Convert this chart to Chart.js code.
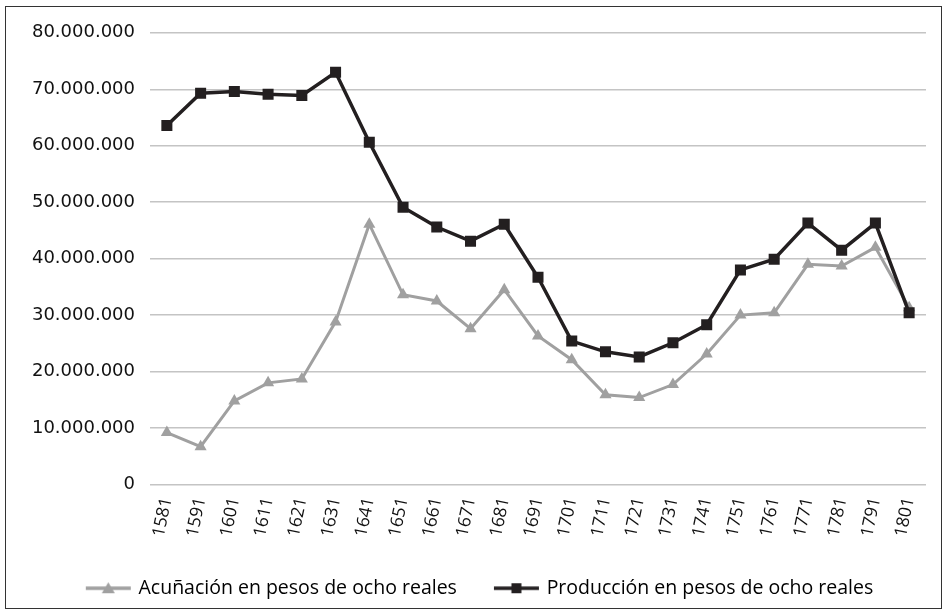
<!DOCTYPE html>
<html>
<head>
<meta charset="utf-8">
<script src="https://cdn.jsdelivr.net/npm/chart.js@4/dist/chart.umd.min.js"></script>
<style>
  html, body { margin: 0; padding: 0; background: #fff; }
  #box { position: absolute; left: 5px; top: 6px; width: 935px; height: 601px; border: 1.5px solid #333; }
  #c { display: block; }
</style>
</head>
<body>
<div id="box"><canvas id="c" width="935" height="601"></canvas></div>
<script>
const years = ['1581','1591','1601','1611','1621','1631','1641','1651','1661','1671','1681','1691','1701','1711','1721','1731','1741','1751','1761','1771','1781','1791','1801'];
const acunacion = [9200000, 6700000, 14800000, 18000000, 18700000, 28800000, 46100000, 33600000, 32500000, 27600000, 34500000, 26300000, 22100000, 15900000, 15400000, 17700000, 23100000, 30000000, 30400000, 39000000, 38700000, 42000000, 31300000];
const produccion = [63600000, 69300000, 69600000, 69100000, 68900000, 73000000, 60600000, 49100000, 45600000, 43100000, 46100000, 36700000, 25400000, 23500000, 22600000, 25100000, 28300000, 38000000, 39900000, 46300000, 41500000, 46300000, 30400000];
const yTicks = [0, 10000000, 20000000, 30000000, 40000000, 50000000, 60000000, 70000000, 80000000];
const seriesNames = ['Acuñación en pesos de ocho reales', 'Producción en pesos de ocho reales'];

const GRAY = '#a0a0a0';
const BLACK = '#231f20';

function legendIcon(color, shape) {
  const cv = document.createElement('canvas');
  cv.width = 80; cv.height = 14;
  const g = cv.getContext('2d');
  g.strokeStyle = color; g.lineWidth = 3.5;
  g.beginPath(); g.moveTo(32, 7); g.lineTo(77, 7); g.stroke();
  g.fillStyle = color;
  if (shape === 'triangle') {
    g.beginPath(); g.moveTo(54.5, 1); g.lineTo(61, 12); g.lineTo(48, 12); g.closePath(); g.fill();
  } else {
    g.fillRect(49.5, 2, 10, 10);
  }
  return cv;
}

function fmt(v) {
  return String(v).replace(/\B(?=(\d{3})+(?!\d))/g, '.');
}

new Chart(document.getElementById('c'), {
  type: 'line',
  data: {
    labels: years,
    datasets: [
      {
        label: seriesNames[0],
        data: acunacion,
        borderColor: GRAY,
        backgroundColor: GRAY,
        borderWidth: 3,
        pointStyle: 'triangle',
        pointRadius: 7,
        pointBorderWidth: 0,
        tension: 0,
        order: 2
      },
      {
        label: seriesNames[1],
        data: produccion,
        borderColor: BLACK,
        backgroundColor: BLACK,
        borderWidth: 3.5,
        pointStyle: 'rect',
        pointRadius: 7.8,
        pointBorderWidth: 0,
        tension: 0,
        order: 1
      }
    ]
  },
  options: {
    responsive: false,
    animation: false,
    layout: { padding: { left: 0, right: 15, top: 12, bottom: 0 } },
    plugins: {
      tooltip: { enabled: false },
      legend: {
        position: 'bottom',
        labels: {
          usePointStyle: true,
          pointStyleWidth: 70,
          color: '#111',
          font: { family: '"Open Sans", sans-serif', size: 19.5 },
          padding: 10,
          generateLabels: (chart) => [
            { text: seriesNames[0], pointStyle: legendIcon(GRAY, 'triangle'), datasetIndex: 0, fillStyle: GRAY, strokeStyle: GRAY, lineWidth: 0 },
            { text: seriesNames[1], pointStyle: legendIcon(BLACK, 'rect'), datasetIndex: 1, fillStyle: BLACK, strokeStyle: BLACK, lineWidth: 0 }
          ]
        }
      }
    },
    scales: {
      x: {
        offset: true,
        grid: { display: false, drawTicks: false },
        border: { display: false },
        ticks: {
          autoSkip: false,
          minRotation: 78,
          maxRotation: 78,
          padding: 11,
          color: '#111',
          font: { family: '"Open Sans", sans-serif', size: 17.5 }
        },
        afterFit: (s) => { s.height = 84; }
      },
      y: {
        min: 0,
        max: 80000000,
        afterBuildTicks: (s) => { s.ticks = yTicks.map(v => ({ value: v })); },
        grid: { color: '#c4c4c4', lineWidth: 1.5, drawTicks: false },
        border: { display: false },
        ticks: {
          padding: 15,
          color: '#111',
          font: { family: '"DejaVu Sans", sans-serif', size: 18 },
          callback: (v) => fmt(v)
        },
        afterFit: (s) => { s.width = 144; }
      }
    }
  }
});
</script>
</body>
</html>
